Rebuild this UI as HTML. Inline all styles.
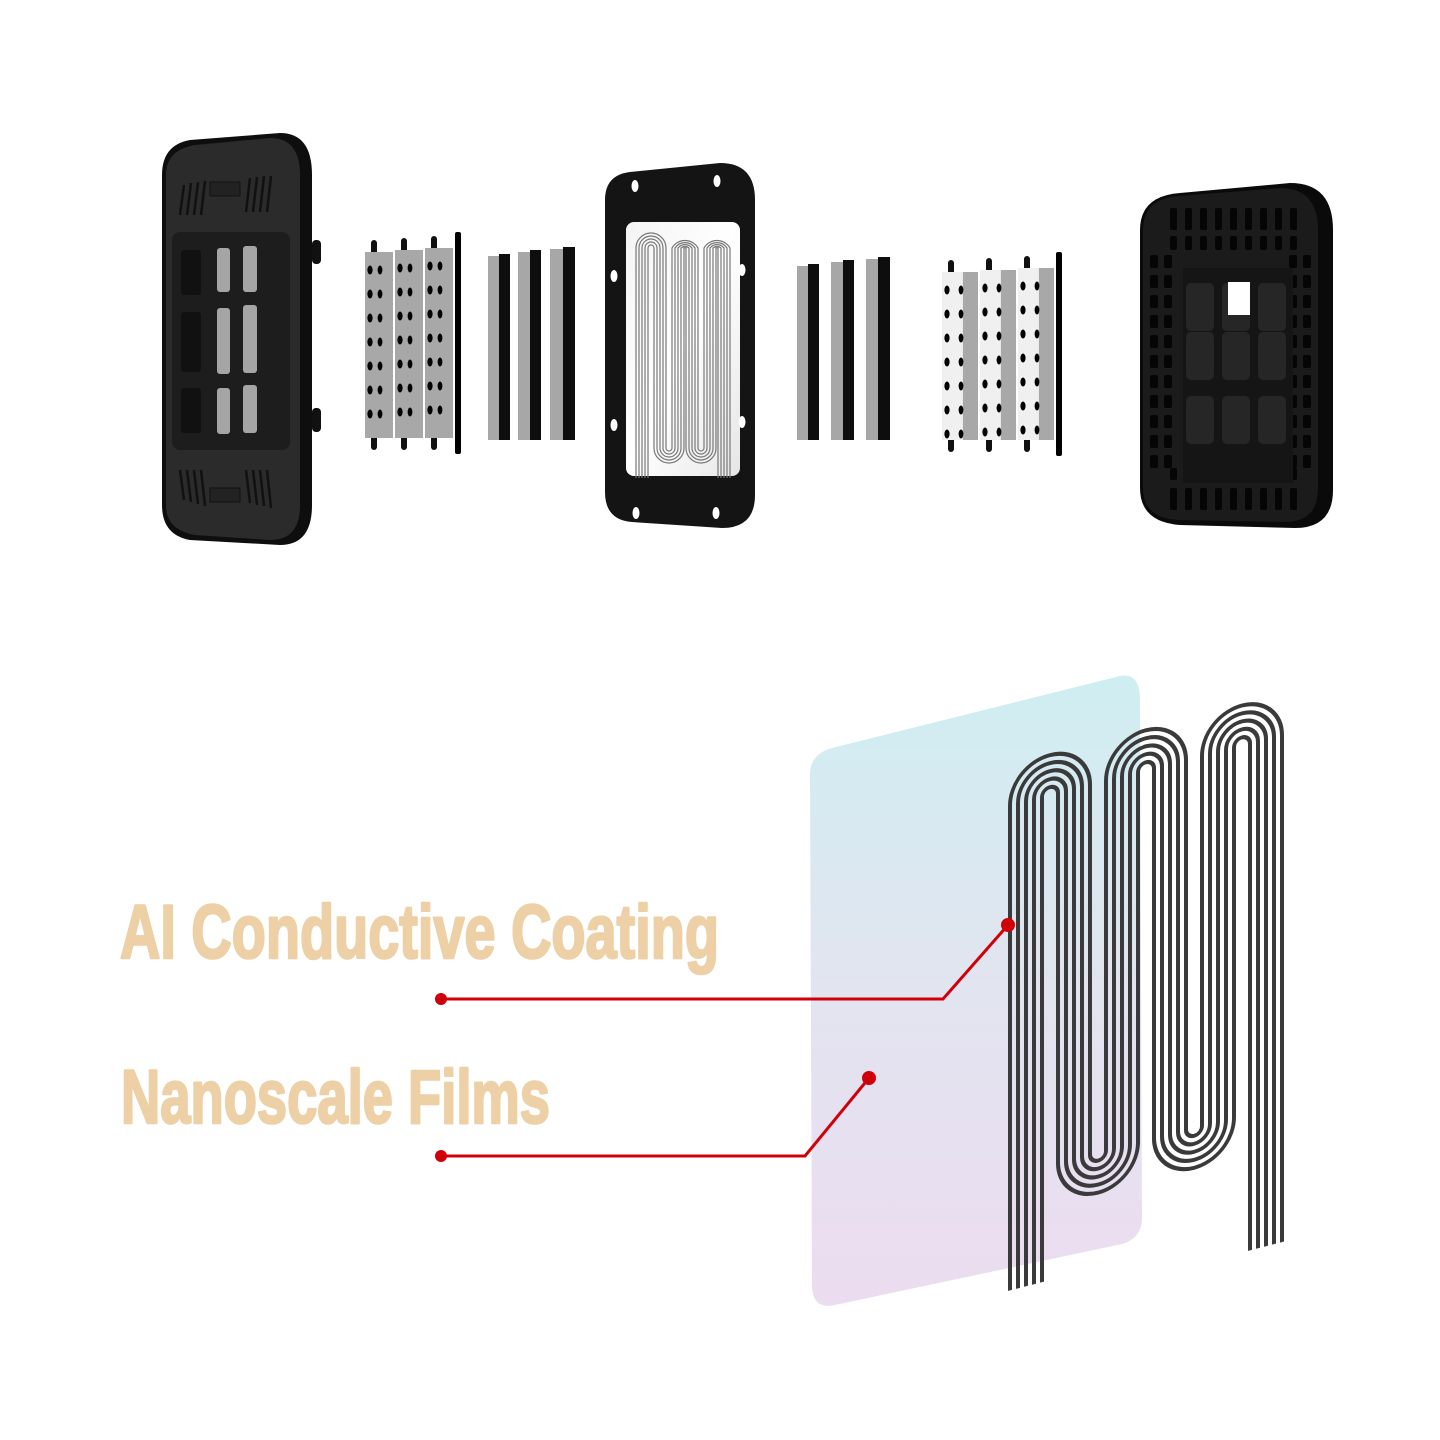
<!DOCTYPE html>
<html><head><meta charset="utf-8"><style>
html,body{margin:0;padding:0;background:#fff;}
svg{display:block;}
.t{font-family:"Liberation Sans Narrow","Liberation Sans",sans-serif;font-weight:bold;fill:#edd0a5;stroke:#edd0a5;stroke-width:2.6;stroke-linejoin:round;}
</style></head><body>
<svg id="s" width="1440" height="1440" viewBox="0 0 1440 1440" xmlns="http://www.w3.org/2000/svg">
<defs>
<linearGradient id="film" x1="0" y1="0" x2="0" y2="1">
<stop offset="0" stop-color="#cfeef2"/><stop offset="0.5" stop-color="#e2e4f0"/><stop offset="1" stop-color="#ecdcf0"/>
</linearGradient>
<linearGradient id="panel" x1="0" y1="0" x2="1" y2="1">
<stop offset="0" stop-color="#f4f4f4"/><stop offset="0.5" stop-color="#fff"/><stop offset="1" stop-color="#e6e6e6"/>
</linearGradient>
</defs>

<!-- LEFT HOUSING -->
<path d="M190 140 L280 133 Q312 133 312 175 L312 505 Q312 545 280 545 L190 540 Q162 535 162 505 L162 175 Q162 145 190 140Z" fill="#0e0e0e"/>
<rect x="312" y="240" width="9" height="24" rx="4" fill="#111"/>
<rect x="312" y="408" width="9" height="24" rx="4" fill="#111"/>
<path d="M195 145 L270 138 Q300 138 300 175 L300 505 Q300 540 270 540 L195 535 Q166 530 166 505 L166 175 Q166 150 195 145Z" fill="#2b2b2b"/>
<rect x="172" y="232" width="118" height="218" rx="8" fill="#1d1d1d"/>
<g fill="#111">
<rect x="181" y="250" width="20" height="45" rx="3"/><rect x="181" y="312" width="20" height="60" rx="3"/><rect x="181" y="388" width="20" height="45" rx="3"/>
</g>
<g fill="#a5a5a5">
<rect x="217" y="248" width="13" height="44" rx="3"/><rect x="243" y="246" width="14" height="46" rx="3"/>
<rect x="217" y="308" width="13" height="66" rx="3"/><rect x="243" y="305" width="14" height="68" rx="3"/>
<rect x="217" y="388" width="13" height="46" rx="3"/><rect x="243" y="385" width="14" height="48" rx="3"/>
</g>
<g stroke="#111" stroke-width="2.5">
<path d="M180 215 L184 185 M187 215 L191 183 M194 215 L198 182 M201 215 L205 181 M246 212 L250 178 M253 212 L257 177 M260 212 L264 176 M267 212 L271 176"/>
<path d="M180 470 L184 500 M187 470 L191 502 M194 470 L198 504 M201 470 L205 506 M246 470 L250 503 M253 470 L257 505 M260 470 L264 506 M267 470 L271 508"/>
</g>
<rect x="210" y="182" width="30" height="14" fill="#222" stroke="#111"/>
<rect x="210" y="488" width="30" height="14" fill="#222" stroke="#111"/>

<g id="perfL"></g>
<g>
<rect x="488" y="256" width="11" height="184" fill="#a7a7a7"/><rect x="499" y="254" width="11" height="186" fill="#0e0e0e"/>
<rect x="518" y="252" width="12" height="188" fill="#a7a7a7"/><rect x="530" y="250" width="11" height="190" fill="#0e0e0e"/>
<rect x="550" y="249" width="13" height="191" fill="#a7a7a7"/><rect x="563" y="247" width="12" height="193" fill="#0e0e0e"/>
</g>

<!-- CENTER FRAME -->
<path d="M630 172 L720 163 Q755 163 755 200 L755 495 Q755 528 722 528 L632 522 Q605 520 605 492 L605 200 Q605 175 630 172Z" fill="#141414"/>
<rect x="626" y="222" width="114" height="254" rx="8" fill="url(#panel)"/>
<g id="cserp"></g>
<g fill="#fff">
<ellipse cx="635" cy="186" rx="3.5" ry="6"/><ellipse cx="717" cy="181" rx="3.5" ry="6"/>
<ellipse cx="614" cy="276" rx="3.5" ry="6"/><ellipse cx="742" cy="270" rx="3.5" ry="6"/>
<ellipse cx="614" cy="425" rx="3.5" ry="6"/><ellipse cx="742" cy="422" rx="3.5" ry="6"/>
<ellipse cx="636" cy="513" rx="3.5" ry="6"/><ellipse cx="716" cy="513" rx="3.5" ry="6"/>
</g>

<g>
<rect x="797" y="266" width="11" height="174" fill="#a7a7a7"/><rect x="808" y="264" width="11" height="176" fill="#0e0e0e"/>
<rect x="831" y="262" width="12" height="178" fill="#a7a7a7"/><rect x="843" y="260" width="11" height="180" fill="#0e0e0e"/>
<rect x="866" y="259" width="12" height="181" fill="#a7a7a7"/><rect x="878" y="257" width="12" height="183" fill="#0e0e0e"/>
</g>
<g id="perfR"></g>

<!-- RIGHT BLOCK -->
<path d="M1180 193 L1290 183 Q1333 183 1333 230 L1333 490 Q1333 528 1295 528 L1180 525 Q1140 522 1140 488 L1140 230 Q1140 196 1180 193Z" fill="#0a0a0a"/>
<path d="M1178 196 L1280 188 Q1318 188 1318 230 L1318 488 Q1318 522 1285 522 L1178 520 Q1143 518 1143 488 L1143 230 Q1143 199 1178 196Z" fill="#1b1b1b"/>
<g id="rholes" fill="#050505"></g>
<rect x="1183" y="268" width="110" height="215" fill="#151515"/>
<g fill="#262626">
<rect x="1186" y="283" width="28" height="48" rx="5"/><rect x="1222" y="283" width="28" height="48" rx="5"/><rect x="1258" y="283" width="28" height="48" rx="5"/>
<rect x="1186" y="332" width="28" height="48" rx="5"/><rect x="1222" y="332" width="28" height="48" rx="5"/><rect x="1258" y="332" width="28" height="48" rx="5"/>
<rect x="1186" y="396" width="28" height="48" rx="5"/><rect x="1222" y="396" width="28" height="48" rx="5"/><rect x="1258" y="396" width="28" height="48" rx="5"/>
</g>
<rect x="1228" y="282" width="22" height="33" fill="#fff"/>

<!-- FILM -->
<path d="M832 748 L1120 676 Q1140 672 1140 700 L1142 1218 Q1142 1238 1122 1244 L835 1305 Q812 1310 812 1285 L810 775 Q810 754 832 748Z" fill="url(#film)"/>
<g id="serp" transform="translate(1000,0) skewY(-14.5) translate(-1000,0)"></g>

<text class="t" x="120" y="958" font-size="76" textLength="599" lengthAdjust="spacingAndGlyphs">AI Conductive Coating</text>
<text class="t" x="121" y="1123" font-size="76" textLength="429" lengthAdjust="spacingAndGlyphs">Nanoscale Films</text>

<g stroke="#d0000a" stroke-width="3" fill="none">
<polyline points="441,999 943,999 1008,925"/>
<polyline points="441,1156 805,1156 869,1078"/>
</g>
<g fill="#d0000a">
<circle cx="441" cy="999" r="6"/><circle cx="1008" cy="925" r="7"/>
<circle cx="441" cy="1156" r="6"/><circle cx="869" cy="1078" r="7"/>
</g>
</svg>
<script>
var NS="http://www.w3.org/2000/svg";
function el(p,t,a){var e=document.createElementNS(NS,t);for(var k in a)e.setAttribute(k,a[k]);p.appendChild(e);return e;}
function perf(g,x0,ytop,ybot,n,w,light){
 for(var i=0;i<n;i++){var x=x0+i*w;var yt=ytop-i*2;
  el(g,"rect",{x:x+6,y:yt-12,width:6,height:ybot-yt+24,rx:3,fill:"#111"});
  el(g,"rect",{x:x,y:yt,width:w-2,height:ybot-yt,fill:light?"#f0f0f0":"#a8a8a8"});
  if(light)el(g,"rect",{x:x+w*0.55,y:yt,width:w*0.45-2,height:ybot-yt,fill:"#a8a8a8"});
  for(var j=0;j<7;j++){var y=yt+18+j*24;
   el(g,"ellipse",{cx:x+5,cy:y,rx:2.6,ry:4.5,fill:"#000"});
   el(g,"ellipse",{cx:x+w*0.5,cy:y,rx:2.4,ry:4.5,fill:"#000"});}
 }
 el(g,"rect",{x:x0+n*w,y:ytop-14-n*2,width:6,height:ybot-ytop+30+n*2,rx:2,fill:"#000"});
}
perf(document.getElementById("perfL"),365,252,438,3,30,false);
perf(document.getElementById("perfR"),942,272,440,3,38,true);
var rh=document.getElementById("rholes");
for(var i=0;i<9;i++){el(rh,"rect",{x:1170+i*15,y:208,width:7,height:22,rx:2});el(rh,"rect",{x:1170+i*15,y:236,width:7,height:14,rx:2});
 el(rh,"rect",{x:1170+i*15,y:488,width:7,height:22,rx:2});el(rh,"rect",{x:1170+i*15,y:468,width:7,height:12,rx:2});}
for(var j=0;j<11;j++){el(rh,"rect",{x:1150,y:255+j*20,width:8,height:13,rx:2});el(rh,"rect",{x:1164,y:255+j*20,width:8,height:13,rx:2});
 el(rh,"rect",{x:1303,y:255+j*20,width:8,height:13,rx:2});el(rh,"rect",{x:1289,y:255+j*20,width:8,height:13,rx:2});}
function serp(g,A,topC,botC,yL,yR,r0,s,n,sw,col){
 for(var k=0;k<n;k++){
  var a=r0+k*s,b=r0+(n-1-k)*s;
  var d="M"+(A[0]-a)+" "+yL+" L"+(A[0]-a)+" "+topC;
  for(var i=0;i<A.length;i++){
   var c=A[i];
   d+=" A"+a+" "+a+" 0 0 1 "+(c+a)+" "+topC;
   if(i<A.length-1){d+=" L"+(c+a)+" "+botC+" A"+b+" "+b+" 0 0 0 "+(c+a+2*b)+" "+botC+" L"+(c+a+2*b)+" "+topC;}
   else d+=" L"+(c+a)+" "+yR;
  }
  el(g,"path",{d:d,fill:"none",stroke:col,"stroke-width":sw});
 }
}
serp(document.getElementById("serp"),[1050,1146,1242],808,1178,1293,1315,8,8,5,4,"#3a3a3a");
serp(document.getElementById("cserp"),[651,683,715],248,448,478,478,3,3,5,1.2,"#777");
</script>
</body></html>
